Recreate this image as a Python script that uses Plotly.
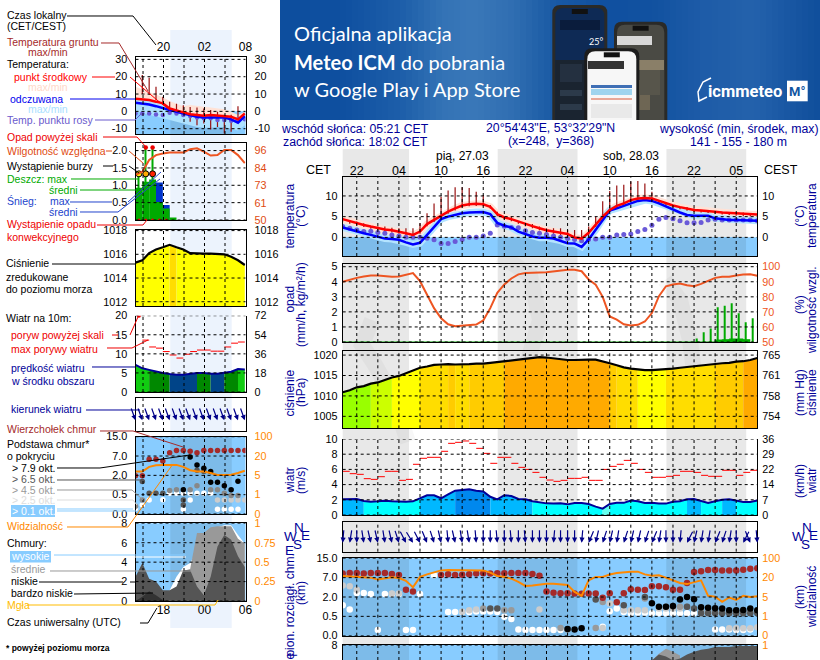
import numpy as np
import plotly.graph_objects as go

# ---- data ----
hour_labels_local = ["22", "04", "10", "16", "22", "04", "10", "16", "22", "05"]
temp_mid = [4.4,3.9,3.4,3.0,2.6,2.2,1.9,1.7,1.4,1.0,0.6,1.4,3.2,4.2,5.2,6.2,7.0,7.7,8.0,8.1,8.0,7.4,5.6,4.8,4.4,3.8,3.2,2.7,2.2,1.7,1.4,1.1,0.8,0.0,-0.3,1.1,3.0,5.0,6.6,7.6,8.2,9.0,9.4,9.5,9.4,8.8,8.2,7.7,7.3,6.9,6.6,6.5,6.4,6.2,6.0,5.9,5.7,5.6,5.6,5.5]
temp_feel = [2.4,1.9,1.4,1.0,0.6,0.2,-0.3,-0.4,-0.6,-1.2,-1.7,-1.3,0.6,2.6,4.4,5.0,5.4,5.8,6.0,6.1,6.1,5.6,3.5,2.8,2.4,1.4,0.8,0.2,-0.1,-0.1,-0.3,-0.8,-1.4,-1.5,-2.3,-0.5,1.8,4.4,6.5,7.0,7.6,8.2,8.8,9.0,8.8,8.2,7.4,6.6,6.0,5.4,5.2,5.2,5.2,4.6,4.4,4.2,4.2,4.2,4.1,4.0]
temp_dew = [2.6,2.2,1.8,1.4,1.5,1.2,1.0,0.6,0.3,0.0,0.0,0.0,-0.2,-0.6,-1.5,-1.5,-1.0,-0.5,0.0,0.0,0.3,1.0,3.0,2.7,2.4,2.3,1.6,1.2,1.0,0.7,0.3,0.0,-0.3,-0.5,-0.8,-0.5,-0.4,0.0,0.0,0.6,0.7,0.8,1.4,1.9,2.9,4.4,4.8,4.5,4.0,3.5,3.5,3.6,4.2,4.4,4.2,4.2,4.2,4.2,4.2,4.0]
soil_hi = [4.6,4.2,3.8,3.4,2.7,2.6,2.6,2.3,2.2,2.2,2.2,3.4,5.8,8.2,9.8,11.3,12.1,12.1,11.9,11.0,10.2,7.8,6.2,5.0,5.0,3.8,3.4,3.2,2.6,2.2,2.2,2.2,1.8,1.8,1.8,2.6,5.0,8.7,11.2,12.5,12.7,13.5,13.6,13.0,11.0,9.0,8.2,7.8,7.4,7.3,7.0,6.6,6.5,6.2,6.2,6.1,6.0,6.0,5.8]
soil_lo = [3.8,3.3,2.9,2.5,2.1,1.7,1.4,1.2,0.9,0.5,0.1,0.9,2.7,3.7,4.7,5.7,6.5,7.2,7.5,7.6,7.5,6.9,5.1,4.3,3.9,3.3,2.7,2.2,1.7,1.2,0.9,0.6,0.3,-0.5,-0.8,0.6,2.5,4.5,6.1,7.1,7.7,8.5,8.9,9.0,8.9,8.3,7.7,7.2,6.8,6.4,6.1,6.0,5.9,5.7,5.5,5.4,5.2,5.1,5.1]
rel_hum = [90,91.5,92.6,93.5,94.2,94.2,93.8,93.3,93.5,94.9,95.8,90.4,81.9,72.5,65.8,61.8,60.5,60.9,61.2,61.6,64.3,72.5,82.6,88.2,92.2,94.9,95.8,95.8,96.2,96.4,97.1,97.5,98,98,97,91.5,88,80,67,64.8,61.8,60.9,61.4,63.6,69.2,80.4,87,88.2,88.8,87.7,87,88.6,90.8,92.6,93.3,93.3,94.2,94.9,95,94]
rain_mean = [0]*53 + [0.13,0.15,0.2,0.2,0.15,0.15]
rain_max_hours = [50,51,52,53,54,55,56,57,58]
rain_max = [0.24,0.64,0.9,2.31,2.4,2.58,1.91,1.31,1.58]
pressure = [1010.9,1011.4,1012.1,1012.4,1013,1013.3,1013.9,1014.5,1014.9,1015.6,1016.3,1016.9,1017.2,1017.6,1017.7,1017.8,1017.7,1017.7,1017.8,1017.9,1017.9,1018.1,1018.3,1018.5,1018.8,1019,1019.2,1019.3,1019.5,1019.4,1019.2,1018.9,1018.8,1018.8,1018.9,1018.9,1018.9,1018.5,1018,1017.5,1017,1016.7,1016.5,1016.3,1016.3,1016.4,1016.6,1016.7,1016.9,1017.1,1017.2,1017.5,1017.6,1017.9,1018,1018.1,1018.4,1018.5,1018.8,1019.3]
wind = [2.06,2.1,2.1,1.84,1.75,1.8,1.89,1.8,1.75,1.75,1.8,2.2,2.6,2.6,2.2,2.7,3.2,3.3,3.4,3.2,3.1,2.4,2.06,2.6,2.5,2.1,2.06,1.8,1.67,1.53,1.5,1.53,1.4,1.58,1.58,1.45,1.1,0.83,1.45,1.6,1.6,1.9,1.8,1.58,1.6,1.5,1.5,1.75,1.8,2.06,2.1,1.8,1.58,1.8,2,2.06,1.9,1.7,1.7,1.9]
gust = [5.75,5.44,5.35,4.78,4.69,5.04,5.75,5.75,4.56,4.69,6.67,7.46,7.59,7.59,8.38,9.43,9.56,9.74,9.43,8.77,8.11,6.8,7.59,7.59,6.8,6.27,6,5.61,4.96,4.6,4.43,4.56,4.82,4.82,4.96,4.56,4.56,6,6.4,6.67,7.19,6.8,6,5.61,4.96,4.96,5.09,5.22,5.75,5.75,5.61,5.22,5.09,5.09,5.88,5.88,5.22,5.61,5.88]
wind_dir = [5,9,0,351,347,347,351,347,342,333,328,333,337,342,347,355,347,351,351,355,0,0,355,0,355,0,355,0,0,0,5,0,0,0,5,23,13,18,13,9,18,13,13,18,23,9,0,0,5,27,13,9,9,23,18,9,0,27,337,355]
visibility = [27,25.6,25.6,23,20,18.5,19.5,21.6,19.7,17.5,12.5,23,33.6,42,50,52,52,52,51,50,50,41,27,23,19.2,16.7,13.6,14,14.6,15.2,15.2,15,14.3,8.9,5.9,17.9,23,23,32.8,39,42,44.8,44.8,33.6,28,29.6,20,17.9,15.9,15,16.7,17.9,5.9,5.3,4,4.9,4.4,5.9,5,5.6]

top_h = [0,1,2,3,4,5,6,7,8,9,10,14,15,16,17,18,19,20,21,22,23,24,25,26,27,28,29,30,31,32,33,34,35,36,37,38,39,40,41,42,43,44,45,46,47,48,49,50,51,52,53,54,55,56,57,58,59]
top_km = [8.7,8.9,8.9,8.7,8.9,8.9,8.9,8.5,8.1,3.9,3.4,8.1,8.4,8.1,8.25,8.4,8.7,8.8,8.7,8.8,8.8,8.9,8.9,8.9,8.5,7.8,3.4,3.1,3,3,2.9,2.85,2.9,2.9,1.94,3,1.6,3,4,3.9,3.8,4.8,4.8,4.5,3.9,3.9,5.6,9.3,9.6,10.2,10.2,10,10,10,10.3,10.7,10.9]
low_white_h = [0,1,2,3,4,5,6,7,8,9,10,11,13,14,15,16,17,18,19,20,21,22,23,24,25,26,27,28,29,30,31,37,38,39,40,41,42,43,44,45,46,47,48,49,50,51,52,53,53,54,55,56,57,58]
low_white_km = [1.37,1.03,3.05,3.05,2.8,0.15,2.8,2.8,2.8,0.15,0.15,2.75,8,8,0.83,0.83,0.83,0.83,0.88,0.88,0.88,0.83,0.49,0.43,0.16,0.15,0.15,0.15,0.15,0.15,0.15,0.23,0.9,1.11,0.83,0.75,0.78,0.78,0.75,0.75,0.75,0.75,0.75,0.75,0.75,0.75,0.75,0.75,0.16,0.16,0.16,0.15,0.15,0.16]
low_light_h = [0,1,2,7,8,17,18,19,28,37,38,40,41,42,43,45,46,47,48,55,56,57,58,59]
low_light_km = [5,4.8,3.9,2.9,2.9,0.85,0.98,1.03,1.03,0.2,1.49,0.98,0.98,0.98,0.98,1.11,1.11,1.11,1.11,0.19,0.19,0.19,0.19,0.22]
low_grey_h = [20,23,24,31,32,36,37,43,46,47,48,49,51,52,53,54,55,56,57,58,59]
low_grey_km = [1.11,0.98,0.98,0.2,0.16,0.2,1.62,1.88,1.24,1.24,1.24,1.24,0.85,0.85,0.85,0.85,0.85,0.85,0.85,0.85,0.85]
low_dark_h = [21,22,36,40,43,49,50,51,52,53,54,55,56,57,58,59]
low_dark_km = [1.11,1.11,1.81,1.37,2,1.24,1.11,0.74,0.74,0.74,0.74,0.74,0.74,0.74,0.74,0.74]
low_black_h = [32,33,34,44,45,46,47,48,49,50,51,52,53,54,55,56,57,58,59]
low_black_km = [0.17,0.16,0.19,1.52,1.24,1.24,1.31,1.81,2,1.83,1.21,1.16,1.13,1.11,0.98,0.98,1,1.11,0.98]

mid_cloud_h = [44,45,46,47,48]
mid_cloud = [6.4,7.1,7.6,7.3,6.9]
low_cloud_h = [43,44,45,46,47,48,49,50,51,52,53,54,55,56,57,58,59]
low_cloud = [0,6.4,7,6.8,6.4,6.6,7,7.3,7.5,7.6,7.8,7.8,7.8,7.9,7.9,7.9,7.9]

# legend panel (left column), 17 hours
leg_temp = [7.3,7.1,6.5,5.6,4.6,1.7,0.4,-0.6,-1.7,-2.1,-2.5,-2.1,-2.5,-2.5,-3.1,-4.6,-1.2]
leg_temp_hi = [14.2,12.7,11.3,9.6,8.1,6,4.6,3,3.7,3,2.7,2.3,1.7,1.2,-0.2,-2.1,-0.2]
leg_feel = [5,4.6,4,3,2.1,0.8,-0.2,-1.2,-2.1,-3.1,-3.5,-3.5,-3.5,-3.5,-4.6,-6.5,-2.7]
leg_feel_hi = [8,7,6,5,4,2,1,0,-1,-2,-2.5,-2.5,-2.5,-2.5,-3.5,-5.5,-1.5]
leg_feel_lo = [0,-1,-2,-3,-4,-5,-6,-7,-8,-9,-9.5,-9.5,-9,-9,-10,-11,-8]
leg_dew = [-1.2,-1.2,-1.2,-1.8,-2.1,-0.8,-1.2,-2.1,-2.7,-3.5,-4,-4,-5,-5,-5.4,-4.6,-4.6]
leg_soil_h = [1,2,3,4,5,6,7,8,9,10,11,12,13,14,15]
leg_soil_hi = [21,19.4,14.2,8.5,5.5,4.4,3.5,2.5,2.2,1.7,0.8,-0.2,-2,-2,3]
leg_soil_lo = [10,9.4,6.5,3.7,-0.2,-2,-3,-6,-8,-7,-10.4,-9,-12.7,-11.7,-5.4]
leg_rh = [79.9,82,89.8,93,94,94.7,94.7,94.7,96.9,97.5,95.3,92.7,93,96.4,96.4,93,87.6]
leg_rain = [0.93,1.1,1.17,0.52,0.33,0.07]
leg_snow = [0,0,0,1.08,0.43,0]
leg_rain_max = [1.33,2.09,2.09]
leg_storm = ["#ffee00", "#ffaa00", "#ff2200"]
leg_conv_h = [0.5,1.5,2.5,3.5,4.5]
leg_press = [1015.3,1015.5,1016.1,1016.4,1016.59,1016.8,1016.59,1016.4,1016.1,1016.05,1016.05,1016.05,1016.05,1016,1015.8,1015.5,1015.1]
leg_wind = [7.1,6.2,5.8,5.3,5,4.7,4.5,4.5,4.7,5,5,4.8,4.8,5,5.3,6,5.9]
leg_gust = [None,13.6,11.8,11.5,10.6,9.7,8.9,9.9,10.6,11,11,10.7,10.7,11.8,12.8,13.1]
leg_dir = [340]*18
leg_top = [1.97,1.97,6.15,6.15,5.7,8.4,9.3,9.3,9,8.4,9.3,9.3,9.3,9.3,9.3,9.3,9.3]
leg_black_h = [7,8,9,10,11,11,12,13,14,15]
leg_black = [0.88,6.75,4.7,3.85,3,1.46,1.46,1.2,0.88,1.54]
leg_dark_h = [1,2,3,4,7,7,9,10]
leg_dark = [1.52,0.62,0.62,0.62,0.36,0.23,3.35,3]
leg_grey_h = [0,1,5,6,8,9,11,12,13,14,15]
leg_grey = [0.2,0.36,0.83,0.88,0.88,1.2,0.88,0.88,0.62,0.48,0.48]
leg_light_h = [12,13,14,15,16]
leg_light = [0.36,0.36,0.36,0.36,0.36]
leg_white_h = [0,1,2,4,7,8,5,6,7,8,9,10,11,12,13,14,15]
leg_white = [0.14,0.23,0.36,0.37,0.12,0.36,0.62,0.62,0.62,0.62,0.62,0.62,0.62,0.12,0.12,0.12,0.12]
leg_vis = [8,8,11.6,12.9,13.1,13.1,13.1,11.6,9,8,8,6.8,5.3,5.3,5.5,6.8,8.6]
leg_high = [0,0,0,0,0,1.1,2.5,3.5,3.9,5.2,5.8,5.9,7.6,7.8,7.8,6.8,5.9]
leg_mid = [0,0,0,0,0,0,0,3.1,3.3,7,7,7.6,7.7,7.7,7.7,6.4,5.9]
leg_low = [2.5,3.9,2.3,2,1.1,1.1,1.5,3.2,3.2,1.5,0.6,2.5,5.6,6.8,6.3,4.6,3.5]
leg_vlow = [0,0.45,1.0,0.6,0.1,0,0,0,0,0,0,0,0,0,0,0,0]
leg_fog_h = [12.2,13.2,14.2,15.2]
leg_fog = [1.1,1.1,1.1,1.1]

# hours of night (grey bands on the main chart, sun times from the header)
night_spans = [(0, 9.44), (22.05, 33.4), (46.05, 57.4)]
leg_night_x = (170.3, 231.7)

W, H = 820, 660
NAVY = "#000099"
ORANGE = "#ff8800"
RHCOL = "#ee5522"
SKY = "#88ccff"
SKY_DARK = "#7dbbe9"
FONT = "Liberation Sans"


def px(x):
    return x / W


def py(y):
    return 1 - y / H


fig = go.Figure()
shapes = []
annots = []
layout_axes = {}
n_axes = 0


def text(x, y, s, color="black", size=10.5, anchor="left", angle=0, family=FONT, bg=None):
    annots.append(dict(x=px(x), y=py(y), xref="paper", yref="paper", text=s, showarrow=False,
                       xanchor=anchor, yanchor="middle", textangle=angle, bgcolor=bg, borderpad=0,
                       font=dict(family=family, size=size, color=color)))


def lead(color, pts, width=1):
    d = "M" + " L".join(f"{px(a):.5f},{py(b):.5f}" for a, b in pts)
    shapes.append(dict(type="path", path=d, xref="paper", yref="paper", layer="above",
                       line=dict(color=color, width=width)))


def box(x0, y0, x1, y1, color, layer="below"):
    shapes.append(dict(type="rect", xref="paper", yref="paper", x0=px(x0), x1=px(x1), y0=py(y0), y1=py(y1),
                       fillcolor=color, line=dict(width=0), layer=layer))


def panel(left, top, right, bottom, xrange, yrange, yvals, ylabels, rlabels, grid_x,
          rrange=None, rvals=None, rcolor="black", xvals=None, xlabels=None, xside="bottom",
          xsize=12, mirror_x=True, tsize=10.8, stand=2, rstand=4, xstand=0):
    global n_axes
    n_axes += 1
    i = 3 * n_axes
    xn, yn, rn = f"x{i}", f"y{i}", f"y{i + 1}"
    layout_axes[f"xaxis{i}"] = dict(domain=[px(left), px(right)], range=xrange, anchor=yn, side=xside,
                                    showgrid=False, zeroline=False, showline=True, linecolor="black", linewidth=1.2,
                                    mirror=mirror_x, ticks="", tickmode="array", tickvals=xvals or [], ticktext=xlabels or [],
                                    tickfont=dict(family=FONT, size=xsize), ticklabelstandoff=xstand)
    layout_axes[f"yaxis{i}"] = dict(domain=[py(bottom), py(top)], range=yrange, anchor=xn, side="left",
                                    showgrid=False, zeroline=False, showline=True, linecolor="black", linewidth=1.2,
                                    mirror=True, ticks="", tickmode="array", tickvals=yvals, ticktext=ylabels,
                                    tickfont=dict(family=FONT, size=tsize), ticklabelstandoff=stand)
    layout_axes[f"yaxis{i + 1}"] = dict(domain=[py(bottom), py(top)], range=rrange or yrange, anchor=xn, overlaying=yn,
                                        side="right", showgrid=False, zeroline=False, showline=False, ticks="",
                                        tickmode="array", tickvals=rvals or yvals, ticktext=rlabels,
                                        tickfont=dict(family=FONT, size=tsize, color=rcolor), ticklabelstandoff=rstand)
    fig.add_trace(go.Scatter(x=[None], y=[None], xaxis=xn, yaxis=yn))
    fig.add_trace(go.Scatter(x=[None], y=[None], xaxis=xn, yaxis=rn))
    dash = dict(color="black", width=1, dash="3px,3px")
    for g in grid_x:
        shapes.append(dict(type="line", xref=xn, yref=f"{yn} domain", x0=g, x1=g, y0=0, y1=1, line=dash, layer="above"))
    for v in yvals:
        shapes.append(dict(type="line", xref=f"{xn} domain", yref=yn, x0=0, x1=1, y0=v, y1=v, line=dash, layer="above"))
    return xn, yn, rn


def sky(xn, yn, y_top=None, spans=()):
    # sky blue background of a panel, a bit darker in the night spans
    y1 = 1 if y_top is None else y_top
    yref = f"{yn} domain" if y_top is None else yn
    y0 = 0 if y_top is None else -100
    shapes.append(dict(type="rect", xref=f"{xn} domain", yref=yref, x0=0, x1=1, y0=y0, y1=y1,
                       fillcolor=SKY, line=dict(width=0), layer="below"))
    for a, b in spans:
        shapes.append(dict(type="rect", xref=xn, yref=yref, x0=a, x1=b, y0=y0, y1=y1,
                           fillcolor=SKY_DARK, line=dict(width=0), layer="below"))


def line(xn, yn, x, y, color, width=2, **kw):
    fig.add_trace(go.Scatter(x=list(x), y=y, xaxis=xn, yaxis=yn, mode="lines", line=dict(color=color, width=width), **kw))


def dots(xn, yn, x, y, color, size):
    fig.add_trace(go.Scatter(x=x, y=y, xaxis=xn, yaxis=yn, mode="markers",
                             marker=dict(color=color, size=size, line=dict(width=0))))


def coloured_area(xn, yn, y, colour_of):
    # one filled trace per run of hours with the same colour
    cols = [colour_of(v) for v in y]
    start = 0
    for i in range(1, len(y)):
        if i == len(y) - 1 or cols[i] != cols[start]:
            fig.add_trace(go.Scatter(x=list(range(start, i + 1)), y=y[start:i + 1], xaxis=xn, yaxis=yn, mode="lines",
                                     line=dict(width=0), fill="tozeroy", fillcolor=cols[start]))
            start = i


def press_colour(p):
    for lim, c in [(1012.5, "#99ff00"), (1014.5, "#ccff00"), (1016.6, "#ffff00"), (1017.75, "#ffdd00"), (1018.5, "#ffcc00")]:
        if p < lim:
            return c
    return "#ffaa00"


def wind_colour(v):
    for lim, c in [(1, "#66ffee"), (2, "#00ffff"), (3, "#00b8ff"), (4, "#0088ee"), (4.9, "#004488"), (6, "#008800")]:
        if v < lim:
            return c
    return "#11cc11"


def gust_segments(values):
    xs, ys = [], []
    for i, v in enumerate(values):
        if v is not None:
            xs += [i, i + 1, None]
            ys += [v, v, None]
    return xs, ys


def arrows(xn, yn, dirs, y_head, length):
    for i, d in enumerate(dirs):
        a = np.radians(d)
        annots.append(dict(x=i, y=y_head, xref=xn, yref=yn, ax=length * np.sin(a), ay=-length * np.cos(a),
                           axref="pixel", ayref="pixel", showarrow=True, arrowhead=2, arrowsize=0.85, arrowwidth=1.2,
                           arrowcolor="#000088", text=""))


def base_pos(km):
    return list(np.interp(km, [0, 0.5, 2, 7, 15], [0, 1, 2, 3, 4]))


def vis_pos(km):
    return list(np.interp(km, [0, 1, 5, 20, 100], [0, 1, 2, 3, 4]))


# ---- banner ----
stops_x = [280, 340, 400, 440, 470, 510, 550, 600, 650, 700, 750, 790, 820]
stops_c = [(13, 78, 158), (15, 80, 160), (30, 95, 170), (52, 115, 182), (58, 120, 185), (48, 110, 178), (26, 90, 165),
           (16, 80, 160), (18, 82, 160), (30, 92, 168), (36, 98, 172), (24, 86, 162), (15, 78, 155)]
xs_band = np.arange(280, 820, 6)
for a in xs_band:
    c = [int(np.interp(a, stops_x, [s[k] for s in stops_c])) for k in range(3)]
    box(a, 0, min(a + 7, 820), 120, f"rgb({c[0]},{c[1]},{c[2]})")


def phone(x0, y0, x1, r, body, screen):
    for inset, col in ((0, body), (3, screen)):
        a, b, t = x0 + inset, x1 - inset, y0 + inset
        d = (f"M{px(a):.5f},{py(120):.5f} L{px(a):.5f},{py(t + r):.5f} Q{px(a):.5f},{py(t):.5f} {px(a + r):.5f},{py(t):.5f} "
             f"L{px(b - r):.5f},{py(t):.5f} Q{px(b):.5f},{py(t):.5f} {px(b):.5f},{py(t + r):.5f} L{px(b):.5f},{py(120):.5f} Z")
        shapes.append(dict(type="path", path=d, xref="paper", yref="paper", fillcolor=col, line=dict(width=0), layer="below"))
    box((x0 + x1) / 2 - 8, y0 + 4, (x0 + x1) / 2 + 8, y0 + 9, "#111111")


phone(552.3, 5, 607.3, 8, "#2a2a28", "#0e2a55")
box(555.3, 60, 604.3, 120, "#1a2430")
box(560, 20, 600, 30, "#0a1c3c")
box(560, 64, 582, 82, "#243040")
box(560, 90, 582, 96, "#2c3a4a")
box(560, 104, 582, 110, "#2c3a4a")
phone(614, 21.7, 667.3, 8, "#2a2a28", "#4a4a44")
box(617, 60, 664, 70, "#8a7f68")
box(622, 80, 650, 110, "#6e6654")
box(640, 70, 660, 95, "#57554b")
box(617, 36, 652, 45, "#d8d8d8")
phone(584.3, 48.3, 639.3, 8, "#1c1c1c", "#f7f7f7")
box(588, 61, 624, 69, "#333333")
box(591, 89, 632, 95, "#9fd4ee")
box(591, 85, 632, 88, "#3f6fb5")
box(591, 98, 632, 100, "#e8a898")
box(591, 104, 632, 118, "#e9e9e9")
text(588, 42, "25°", "white", 9, family="Lato")
text(292.7, 33, "Oficjalna aplikacja", "white", 20, family="Lato")
text(292.7, 61.7, "<b>Meteo ICM</b> do pobrania", "white", 20, family="Lato")
text(292.7, 89.3, "w Google Play i App Store", "white", 20, family="Lato")
text(707, 91, "<b>icmmeteo</b>", "white", 16.5, family="Roboto")
lead("white", [(707, 97), (699, 101), (698, 92), (703, 82), (711, 78)], 1.5)
box(787, 80.7, 807.7, 101.3, "white")
text(797.3, 91, "<b>M°</b>", "#12559f", 13, anchor="center", family="Roboto")

# ---- background bands ----
for a, b in night_spans:
    box(342.7 + 7.03 * a, 149, 342.7 + 7.03 * b, 660, "#e8e8e8")
box(leg_night_x[0], 30, leg_night_x[1], 628, "#ecf3fd")

# faint watermark swirls behind the main chart
for d_pts in [[(372, 320), (362, 345), (375, 365), (392, 395), (408, 442)],
              [(500, 255), (530, 275), (540, 320), (525, 370), (535, 425)],
              [(665, 280), (680, 300), (690, 340), (695, 380), (665, 420)]]:
    d = "M" + " L".join(f"{px(a):.5f},{py(b):.5f}" for a, b in d_pts)
    shapes.append(dict(type="path", path=d, xref="paper", yref="paper", layer="below",
                       line=dict(color="rgba(0,0,0,0.03)", width=16)))

# ---- main chart ----
hours = range(60)
grid = list(range(2, 59, 3))
mL, mR = 342.7, 757.3
xr = [0, 59]
label_x = [2, 8, 14, 20, 26, 32, 38, 44, 50, 56]
tx, ty, tr = panel(mL, 177.3, mR, 256, xr, [-4.5, 14.5], [10, 5, 0], ["10", "5", "0"], ["10", "5", "0"], grid,
                   xvals=label_x, xlabels=hour_labels_local, xside="top", xsize=12.5, xstand=-4)
sky(tx, ty, y_top=0, spans=night_spans)
line(tx, ty, hours, temp_mid, "#ffe2d6", 7)
line(tx, ty, hours, temp_feel, "#b4e4ff", 7)
sx, sy = [], []
for h, (a, b) in enumerate(zip(soil_hi, soil_lo)):
    sx += [h, h, None]
    sy += [b, a, None]
line(tx, ty, sx, sy, "#991111", 1.2)
dots(tx, ty, list(hours), temp_dew, "#6a5ad8", 5)
line(tx, ty, hours, temp_feel, "#0000ff", 2.5)
line(tx, ty, hours, temp_mid, "#ff0000", 2.5)

px_, py_, pr = panel(mL, 263.7, mR, 342, xr, [0, 5.2], [5, 4, 3, 2, 1, 0], ["5", "4", "3", "2", "1", "0"],
                     ["100", "90", "80", "70", "60", "50"], grid, rrange=[50, 102],
                     rvals=[100, 90, 80, 70, 60, 50], rcolor=RHCOL)
fig.add_trace(go.Bar(x=[h + 0.4 for h in rain_max_hours], y=rain_max, width=0.12, marker=dict(color="#00aa00", line=dict(width=0)),
                     xaxis=px_, yaxis=py_))
fig.add_trace(go.Scatter(x=list(range(len(rain_mean))), y=rain_mean, xaxis=px_, yaxis=py_, mode="lines",
                         line=dict(color="#00aa00", width=1, shape="hv"), fill="tozeroy", fillcolor="#00aa00"))
line(px_, pr, hours, rel_hum, RHCOL, 2)

ax, ay, ar = panel(mL, 351, mR, 428.3, xr, [1002.07, 1021], [1020, 1015, 1010, 1005], ["1020", "1015", "1010", "1005"],
                   ["765", "761", "758", "754"], grid)
coloured_area(ax, ay, pressure, press_colour)
line(ax, ay, hours, pressure, "black", 2.2)

wx, wy, wr = panel(mL, 439, mR, 515, xr, [0, 10], [10, 8, 6, 4, 2, 0], ["10", "8", "6", "4", "2", "0"],
                   ["36", "29", "22", "14", "7", "0"], grid, mirror_x=False)
coloured_area(wx, wy, wind, wind_colour)
line(wx, wy, hours, wind, "#000099", 2)
gx, gy = gust_segments(gust)
line(wx, wy, gx, gy, "#ff0000", 1)

dx, dy, dr = panel(mL, 521.5, mR, 551.7, xr, [0, 1], [], [], [], grid)
arrows(dx, dy, wind_dir, 0.3, 14)

bx, by, br = panel(mL, 558.3, mR, 635.7, xr, [0, 4], [4, 3, 2, 1, 0], ["15.0", "7.0", "2.0", "0.5", "0.0"],
                   ["100", "20", "5", "1", "0"], grid, rcolor=ORANGE)
sky(bx, by, spans=night_spans)
dots(bx, by, low_white_h, base_pos(low_white_km), "white", 6.5)
dots(bx, by, low_light_h, base_pos(low_light_km), "#cccccc", 6.5)
dots(bx, by, low_grey_h, base_pos(low_grey_km), "#999999", 6.5)
dots(bx, by, low_dark_h, base_pos(low_dark_km), "#555555", 6.5)
dots(bx, by, low_black_h, base_pos(low_black_km), "black", 6.5)
dots(bx, by, top_h, base_pos(top_km), "#a52a2a", 6.5)
line(bx, by, hours, vis_pos(visibility), ORANGE, 2)

cx, cy, cr = panel(mL, 645, mR, 660, xr, [8 - 15 / 9.6, 8], [8], ["8"], ["1"], grid, rcolor=ORANGE)
sky(cx, cy, spans=night_spans)
line(cx, cy, mid_cloud_h, mid_cloud, "#999999", 0, fill="tozeroy", fillcolor="#999999")
line(cx, cy, low_cloud_h, low_cloud, "#555555", 0, fill="tozeroy", fillcolor="#555555")

# ---- legend column ----
lL, lR = 135.5, 245.5
lr = [0, 16.1]
lgrid = [1.1, 4.1, 7.1, 10.1, 13.1]
lh = range(17)
lspan = [((leg_night_x[0] - lL) / 6.83, (leg_night_x[1] - lL) / 6.83)]
x1, y1, r1 = panel(lL, 57.3, lR, 134, lr, [-13.06, 31.2], [30, 20, 10, 0, -10], ["30", "20", "10", "0", "-10"],
                   ["30", "20", "10", "0", "-10"], lgrid, xvals=[4.1, 10.1, 16.1], xlabels=["20", "02", "08"], xside="top",
                   stand=5, rstand=8)
sky(x1, y1, y_top=0, spans=lspan)
line(x1, y1, lh, leg_temp, "rgba(0,0,0,0)", 0)
line(x1, y1, lh, leg_temp_hi, "rgba(0,0,0,0)", 0, fill="tonexty", fillcolor="#ffe2d6")
line(x1, y1, lh, leg_feel_lo, "rgba(0,0,0,0)", 0)
line(x1, y1, lh, leg_feel_hi, "rgba(0,0,0,0)", 0, fill="tonexty", fillcolor="#aee2ff")
sx, sy = [], []
for h, a, b in zip(leg_soil_h, leg_soil_hi, leg_soil_lo):
    sx += [h, h, None]
    sy += [b, a, None]
line(x1, y1, sx, sy, "#991111", 1.2)
dots(x1, y1, list(lh), leg_dew, "#6a5ad8", 4.5)
line(x1, y1, lh, leg_feel, "#0000ff", 2.5)
line(x1, y1, lh, leg_temp, "#ff0000", 2.5)

x2, y2, r2 = panel(lL, 143.3, lR, 220, lr, [0, 2.21], [2, 1.5, 1, 0.5, 0], ["2.0", "1.5", "1.0", "0.5", "0.0"],
                   ["96", "84", "73", "61", "50"], lgrid, rrange=[50, 100.8], rvals=[96, 84, 73, 61, 50], rcolor="#e04a10",
                   stand=5, rstand=8)
bars_x = [h + 0.5 for h in range(6)]
fig.add_trace(go.Bar(x=bars_x, y=leg_snow, width=1, marker=dict(color="#0033cc", line=dict(width=0)), xaxis=x2, yaxis=y2))
fig.add_trace(go.Bar(x=bars_x, y=leg_rain, width=1, marker=dict(color="#00aa00", line=dict(width=0)), xaxis=x2, yaxis=y2))
fig.add_trace(go.Bar(x=bars_x[:3], y=leg_rain_max, width=0.14, marker=dict(color="#00aa00", line=dict(width=0)), xaxis=x2, yaxis=y2))
dots(x2, y2, bars_x[1:3], leg_rain_max[1:], "#ee0000", 4.5)
fig.add_trace(go.Scatter(x=bars_x[:3], y=[1.33, 1.33, 1.33], xaxis=x2, yaxis=y2, mode="markers",
                         marker=dict(color=leg_storm, size=6, line=dict(color="black", width=1))))
dots(x2, y2, leg_conv_h, [0.0] * 5, "#ee0000", 3)
line(x2, r2, lh, leg_rh, RHCOL, 2)

x3, y3, r3 = panel(lL, 230, lR, 306, lr, [1011.64, 1018.05], [1018, 1016, 1014, 1012], ["1018", "1016", "1014", "1012"],
                   ["1018", "1016", "1014", "1012"], lgrid, stand=5, rstand=8)
coloured_area(x3, y3, leg_press, press_colour)
line(x3, y3, lh, leg_press, "black", 2.2)

x4, y4, r4 = panel(lL, 315.7, lR, 392, lr, [0, 20], [20, 15, 10, 5, 0], ["20", "15", "10", "5", "0"],
                   ["72", "54", "36", "18", "0"], lgrid, mirror_x=False, stand=5, rstand=8)
coloured_area(x4, y4, leg_wind, wind_colour)
line(x4, y4, lh, leg_wind, "#000099", 2)
gx, gy = gust_segments(leg_gust)
line(x4, y4, gx, gy, "#ff0000", 1)
dots(x4, y4, [0.5], [20], "#ee0000", 4)

x5, y5, r5 = panel(lL, 398.3, lR, 431, lr, [0, 1], [], [], [], lgrid)
arrows(x5, y5, leg_dir, 0.33, 14)

x6, y6, r6 = panel(lL, 436.7, lR, 514, lr, [0, 4], [4, 3, 2, 1, 0], ["15.0", "7.0", "2.0", "0.5", "0.0"],
                   ["100", "20", "5", "1", "0"], lgrid, rcolor=ORANGE, stand=5, rstand=8)
sky(x6, y6, spans=lspan)
dots(x6, y6, leg_white_h, base_pos(leg_white), "white", 5.5)
dots(x6, y6, leg_light_h, base_pos(leg_light), "#cccccc", 5.5)
dots(x6, y6, leg_grey_h, base_pos(leg_grey), "#888888", 5.5)
dots(x6, y6, leg_dark_h, base_pos(leg_dark), "#555555", 5.5)
dots(x6, y6, leg_black_h, base_pos(leg_black), "black", 5.5)
dots(x6, y6, list(lh), base_pos(leg_top), "#a52a2a", 5.5)
line(x6, y6, lh, vis_pos(leg_vis), ORANGE, 2)

x7, y7, r7 = panel(lL, 523.3, lR, 601, lr, [0, 8], [8, 6, 4, 2, 0], ["8", "6", "4", "2", "0"],
                   ["1", "0.75", "0.5", "0.25", "0"], lgrid, xvals=[4.1, 10.1, 16.1], xlabels=["18", "00", "06"], rcolor=ORANGE,
                   stand=5, rstand=8, xstand=-3)
sky(x7, y7, spans=lspan)
line(x7, y7, lh, leg_high, "white", 0, fill="tozeroy", fillcolor="white")
line(x7, y7, lh, leg_mid, "#999999", 0, fill="tozeroy", fillcolor="#999999")
line(x7, y7, lh, leg_low, "#555555", 0, fill="tozeroy", fillcolor="#555555")
line(x7, y7, lh, leg_vlow, "#333333", 0, fill="tozeroy", fillcolor="#333333")
fig.add_trace(go.Bar(x=leg_fog_h, y=leg_fog, width=0.35, marker=dict(color="#ffaa00", line=dict(width=0)), xaxis=x7, yaxis=y7))

# ---- header of the main chart ----
for xpos, y, s in [(355, 129, "wschód słońca: 05:21 CET"), (355, 142, "zachód słońca: 18:02 CET"),
                   (550.5, 128, "20°54'43\"E, 53°32'29\"N"), (550.5, 141, "(x=248,  y=368)"),
                   (738.5, 129, "wysokość (min, środek, max)"), (738.5, 142, "141 - 155 - 180 m")]:
    text(xpos, y, s, NAVY, 12.3, anchor="center")
text(462.5, 156, "pią, 27.03", "black", 12, anchor="center")
text(630.5, 156, "sob, 28.03", "black", 12, anchor="center")
text(318.6, 170, "CET", "black", 12.5, anchor="center")
text(781, 170, "CEST", "black", 12.5, anchor="center")

for x_pos, y, s in [(289.6, 216, "temperatura"), (301, 216.7, "(°C)"), (800, 216.7, "(°C)"), (812, 216, "temperatura"),
                    (289.6, 299, "opad"), (301, 305, "(mm/h, kg/m²/h)"), (800, 305, "(%)"), (812, 310, "wilgotność wzgl."),
                    (289.6, 393, "ciśnienie"), (301, 393, "(hPa)"), (800, 393, "(mm Hg)"), (812, 393, "ciśnienie"),
                    (289.6, 481, "wiatr"), (301, 481, "(m/s)"), (800, 481, "(km/h)"), (812, 481, "wiatr"),
                    (289.6, 605, "pion. rozciągł. chm."), (301, 593, "(km)"), (800, 597, "(km)"), (812, 597, "widzialność"),
                    (289.6, 656, "e")]:
    text(x_pos, y, s, NAVY, 12, anchor="center", angle=-90)
for x_base in (0, 508):
    text(x_base + 290, 536, "W", NAVY, 13.5, anchor="center")
    text(x_base + 299, 527, "N", NAVY, 13.5, anchor="center")
    text(x_base + 305.5, 535, "E", NAVY, 13.5, anchor="center")
    text(x_base + 297.5, 544, "S", NAVY, 13.5, anchor="center")
text(289, 550, "E", NAVY, 13.5, anchor="center")

# ---- labels of the legend column ----
BROWN = "#a52a2a"
SLATE = "#6a5acd"
GREEN = "#00aa00"
SNOW = "#2244cc"
for x_pos, y, s, c in [
    (6, 14.7, "Czas lokalny", "black"), (6, 26, "(CET/CEST)", "black"),
    (6, 42.3, "Temperatura gruntu", BROWN), (27, 52.3, "max/min", BROWN),
    (6, 64, "Temperatura:", "black"), (12.7, 76.7, "punkt środkowy", "#ff0000"), (27, 87, "max/min", "#ffd8c8"),
    (9.3, 98.7, "odczuwana", "#0000ee"), (27, 108.7, "max/min", "#a8e0ff"), (6, 120, "Temp. punktu rosy", SLATE),
    (6, 137.3, "Opad powyżej skali", "#ee0000"), (6, 151.3, "Wilgotność względna", "#e04a10"),
    (6, 165.7, "Wystąpienie burzy", "black"), (6, 179.3, "Deszcz: max", GREEN), (48.3, 190.3, "średni", GREEN),
    (6, 201.3, "Śnieg:", SNOW), (48.7, 201.3, "max", SNOW), (48.3, 212, "średni", SNOW),
    (6, 224, "Wystąpienie opadu", "#ee0000"), (6, 237.3, "konwekcyjnego", "#ee0000"),
    (5, 263.3, "Ciśnienie", "black"), (5, 276.7, "zredukowane", "black"), (5, 289.3, "do poziomu morza", "black"),
    (5, 318, "Wiatr na 10m:", "black"), (10, 334.7, "poryw powyżej skali", "#ee0000"), (10, 348.7, "max porywy wiatru", "#ee0000"),
    (10, 368, "prędkość wiatru", NAVY), (10, 381.3, "w środku obszaru", NAVY), (10, 409.3, "kierunek wiatru", NAVY),
    (6, 429.3, "Wierzchołek chmur", BROWN), (6, 444.3, "Podstawa chmur*", "black"), (6, 455.7, "o pokryciu", "black"),
    (10.7, 468.3, "> 7.9 okt.", "black"), (10.7, 479.3, "> 6.5 okt.", "#555555"), (10.7, 490, "> 4.5 okt.", "#999999"),
    (10.7, 500.3, "> 2.5 okt.", "#dddddd"), (6, 526, "Widzialność", ORANGE), (6, 543.3, "Chmury:", "black"),
    (10, 569, "średnie", "#999999"), (10, 581, "niskie", "black"), (10, 593, "bardzo niskie", "black"), (6, 605, "Mgła", "#ffbb00"),
    (6, 622.3, "Czas uniwersalny (UTC)", "black"),
]:
    text(x_pos, y, s, c)
box(11, 505, 55, 517, SKY, layer="above")
text(10.7, 511, "> 0.1 okt.", "white")
box(10, 551, 51, 562.5, SKY, layer="above")
text(10, 556.3, "wysokie", "white")
text(5, 648, "<b>* powyżej poziomu morza</b>", "black", 8.5)

# ---- leader lines ----
for c, pts in [
    ("black", [(67, 16), (133, 16), (156, 45)]),
    ("#a52a2a", [(101, 43), (119, 43), (148, 91)]),
    ("#ff0000", [(92, 77), (115, 77)]), ("#ff0000", [(130, 77), (157, 100), (170, 110)]),
    ("#0000ee", [(70, 99), (135, 99)]), (SLATE, [(95, 120), (135, 120), (142, 113)]),
    ("#ee0000", [(103, 137), (137, 137), (146, 147)]),
    ("#e04a10", [(106, 151), (112, 151)]), ("#e04a10", [(129, 151), (143, 163)]),
    ("black", [(103, 166), (113, 166)]), ("black", [(129, 166), (139, 173)]),
    (GREEN, [(71, 179), (139, 179)]), (GREEN, [(80, 190), (143, 190)]),
    (SNOW, [(70, 202), (112, 202)]), (SNOW, [(128, 202), (161, 172)]),
    (SNOW, [(80, 212), (118, 212), (160, 179)]),
    ("#ee0000", [(97, 225), (143, 225), (147, 220)]),
    ("black", [(52, 264), (135, 264)]),
    ("#ee0000", [(112, 335), (118, 335)]), ("#ee0000", [(130, 335), (138, 317)]),
    ("#ee0000", [(107, 348), (132, 348), (148, 340)]),
    (NAVY, [(92, 367), (135, 367)]), (NAVY, [(86, 410), (140, 410)]),
    ("#a52a2a", [(100, 431), (133, 431), (183, 447)]),
    ("black", [(57, 468), (100, 468), (190, 455)]),
    ("#555555", [(57, 480), (143, 480)]),
    ("#999999", [(57, 490), (132, 490), (143, 500)]),
    ("#dddddd", [(57, 500), (133, 500), (137, 505)]),
    (SKY, [(57, 509), (133, 509)]), (SKY, [(57, 511), (136, 511)]),
    (ORANGE, [(67, 527), (128, 527), (173, 464)]),
    (SKY, [(54, 555), (186, 555)]), ("white", [(54, 557), (186, 557)]),
    ("#999999", [(50, 571), (192, 571)]),
    ("black", [(39, 582), (123, 582)]), ("black", [(130, 582), (135, 582)]),
    ("black", [(74, 594), (153, 593)]),
    ("#ffbb00", [(27, 605), (215, 605), (218, 600)]),
    ("black", [(140, 623), (148, 623), (157, 608)]),
]:
    lead(c, pts)

fig.update_layout(width=W, height=H, margin=dict(l=0, r=0, t=0, b=0, autoexpand=False), showlegend=False, plot_bgcolor="rgba(0,0,0,0)",
                  paper_bgcolor="white", barmode="overlay", hovermode=False, shapes=shapes, annotations=annots,
                  font=dict(family=FONT, color="black"), **layout_axes)
fig.write_html("out.html", post_script="document.body.style.margin='0';document.documentElement.style.overflow='hidden';document.body.style.overflow='hidden';",
               config={"displayModeBar": False})
